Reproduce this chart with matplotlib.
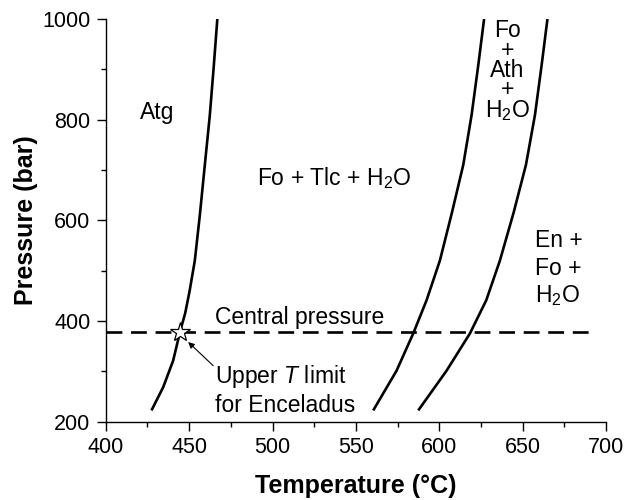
import numpy as np
import matplotlib.pyplot as plt
from matplotlib.ticker import MultipleLocator

plt.rcParams['font.family'] = ['Liberation Sans', 'DejaVu Sans']
plt.rcParams['mathtext.fontset'] = 'custom'
plt.rcParams['mathtext.rm'] = 'Liberation Sans'
plt.rcParams['mathtext.it'] = 'Liberation Sans:italic'

# reaction curves (T in °C, P in bar)
atg_T = [427.4, 434.4, 440.4, 444.5, 447.6, 450.2, 453.4, 456.4, 459.4, 462.4, 464.8, 466.9]
atg_P = [222, 268, 321, 378, 415, 458, 520, 610, 710, 809, 908, 1000]

ath_T = [560.4, 574.4, 584.4, 592.4, 600.4, 607.6, 614.4, 619.4, 623.4, 626.9]
ath_P = [222, 301, 375, 441, 520, 615, 710, 809, 908, 1000]

en_T = [587.4, 604.4, 618.4, 628.2, 636.4, 644.6, 652.0, 657.4, 661.4, 664.9]
en_P = [222, 301, 375, 441, 520, 615, 710, 809, 908, 1000]

central_P = 378
limit_T = 444.5

x_ticks = [400, 450, 500, 550, 600, 650, 700]
y_ticks = [200, 400, 600, 800, 1000]

fig = plt.figure(figsize=(6.26, 5.0), dpi=100)
ax = fig.add_axes([0.169, 0.157, 0.799, 0.805])

lw = 1.9
ax.plot(atg_T, atg_P, color='black', lw=lw, solid_capstyle='butt')
ax.plot(ath_T, ath_P, color='black', lw=lw, solid_capstyle='butt')
ax.plot(en_T, en_P, color='black', lw=lw, solid_capstyle='butt')

# central pressure of Enceladus
ax.plot([400, 692], [central_P, central_P], color='black', lw=lw,
        dashes=(6, 3.3))
ax.plot([limit_T], [central_P], marker='*', ms=15, mfc='white',
        mec='black', mew=0.9, zorder=5)

fs = 16.5
ax.text(420.4, 801, 'Atg', fontsize=fs)
ax.text(490.4, 670, r'Fo + Tlc + H$_\mathregular{2}$O', fontsize=fs)

# stacked labels
ax.text(641.0, 1000, 'Fo\n+\nAth\n+\nH$_\\mathregular{2}$O', fontsize=fs,
        ha='center', va='top', multialignment='center', linespacing=0.82)
for s, p in [('En +', 547), ('Fo +', 491), (r'H$_\mathregular{2}$O', 437)]:
    ax.text(657.4, p, s, fontsize=fs, ha='left', va='baseline')

ax.text(465.4, 393, 'Central pressure', fontsize=fs, va='baseline')
ax.text(465.4, 276, r'Upper $\mathit{T}$ limit', fontsize=fs, va='baseline')
ax.text(465.4, 218.5, 'for Enceladus', fontsize=fs, va='baseline')
ax.annotate('', xy=(449.4, 358), xytext=(464.4, 311),
            arrowprops=dict(arrowstyle='-|>', color='black', lw=0.8,
                            mutation_scale=9, shrinkA=0, shrinkB=0))

ax.set_xlim(400, 700)
ax.set_ylim(200, 1000)
ax.set_xticks(x_ticks)
ax.set_yticks(y_ticks)
ax.xaxis.set_minor_locator(MultipleLocator(25))
ax.yaxis.set_minor_locator(MultipleLocator(100))
ax.tick_params(which='major', direction='out', length=6.5, width=1,
               labelsize=15.5, pad=4.5)
ax.tick_params(which='minor', direction='out', length=3.5, width=1)
for side in ['top', 'right']:
    ax.spines[side].set_visible(False)
for side in ['left', 'bottom']:
    ax.spines[side].set_linewidth(1)

ax.set_xlabel('Temperature (°C)', fontsize=18, fontweight='bold', labelpad=12)
ax.set_ylabel('Pressure (bar)', fontsize=18, fontweight='bold', labelpad=3)

fig.savefig('out.png', dpi=100)
